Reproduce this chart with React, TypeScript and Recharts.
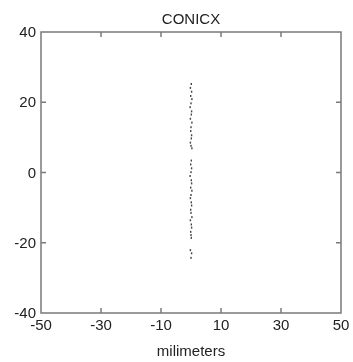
import React from "react";
import { ScatterChart, Scatter, XAxis, YAxis, ReferenceArea } from "recharts";

const title = "CONICX";
const xLabel = "milimeters";
const xTicks = [-50, -30, -10, 10, 30, 50];
const yTicks = [-40, -20, 0, 20, 40];

const pointX = [
  0.1, -0.2, 0.2, -0.1, 0.3, 0.0, -0.3, 0.2, 0.1, -0.2, 0.3, 0.0, -0.1, 0.2, 0.1,
  -0.2, 0.0, 0.3, 0.1, -0.1, 0.2, 0.0, -0.3, 0.1, 0.2, -0.1, 0.3, 0.0, -0.2, 0.1,
  0.2, -0.1, 0.0, 0.3, -0.2, 0.1, 0.2, -0.1, 0.0, 0.1, -0.2, 0.2, 0.0,
];
const pointY = [
  25.2, 24.1, 23.0, 21.8, 20.9, 19.7, 18.6, 17.4, 16.5, 15.3, 14.2, 12.9, 11.8, 10.6,
  9.7, 8.5, 7.6, 6.9, 3.4, 2.3, 1.2, 0.1, -1.0, -2.2, -3.1, -4.3, -5.2, -6.4, -7.3,
  -8.5, -9.4, -10.6, -11.5, -12.7, -13.6, -14.8, -15.7, -16.9, -17.8, -18.6, -22.1,
  -23.0, -24.3,
];

const points = pointX.map((x, i) => ({ x, y: pointY[i] }));

const axisColor = "#7a7a7a";
const textColor = "#222";
const font = "'Liberation Sans', Arial, sans-serif";
const tickLen = 5;

const BottomTick = (props: any) => {
  const { x, y, payload } = props;
  const isEnd = payload.value === -50 || payload.value === 50;
  return (
    <g>
      {!isEnd && (
        <path d={`M${x},${y}L${x},${y - tickLen}`} stroke={axisColor} strokeWidth={1.5} fill="none" />
      )}
      <text x={x} y={y + 17} textAnchor="middle" fill={textColor} fontSize={15} fontFamily={font}>
        {payload.value}
      </text>
    </g>
  );
};

const TopTick = (props: any) => {
  const { x, y, payload } = props;
  const isEnd = payload.value === -50 || payload.value === 50;
  if (isEnd) return <g />;
  return <path d={`M${x},${y}L${x},${y + tickLen}`} stroke={axisColor} strokeWidth={1.5} fill="none" />;
};

const LeftTick = (props: any) => {
  const { x, y, payload } = props;
  const isEnd = payload.value === -40 || payload.value === 40;
  return (
    <g>
      {!isEnd && (
        <path d={`M${x},${y}L${x + tickLen},${y}`} stroke={axisColor} strokeWidth={1.5} fill="none" />
      )}
      <text x={x - 5} y={y + 5} textAnchor="end" fill={textColor} fontSize={15} fontFamily={font}>
        {payload.value}
      </text>
    </g>
  );
};

const RightTick = (props: any) => {
  const { x, y, payload } = props;
  const isEnd = payload.value === -40 || payload.value === 40;
  if (isEnd) return <g />;
  return <path d={`M${x},${y}L${x - tickLen},${y}`} stroke={axisColor} strokeWidth={1.5} fill="none" />;
};

const Speck = (props: any) => {
  const { cx, cy } = props;
  return <rect x={cx - 0.7} y={cy - 1} width={1.4} height={2} fill="#444" />;
};

export default function App() {
  return (
    <div style={{ position: "fixed", left: 8, top: 8, width: 345, height: 354 }}>
      <div
        style={{
          position: "absolute",
          left: 0,
          width: 366,
          top: 3,
          textAlign: "center",
          fontFamily: font,
          fontSize: 15,
          color: textColor,
          lineHeight: "16px",
        }}
      >
        {title}
      </div>
      <ScatterChart
        width={345}
        height={354}
        margin={{ top: 23, right: 11, bottom: 4, left: 0 }}
        style={{ fontFamily: font }}
      >
        <XAxis
          xAxisId="b"
          type="number"
          dataKey="x"
          domain={[-50, 50]}
          ticks={xTicks}
          allowDataOverflow
          height={45}
          tickSize={0}
          tickMargin={0}
          tickLine={false}
          axisLine={false}
          tick={<BottomTick />}
          label={{
            value: xLabel,
            position: "insideBottom",
            offset: 2,
            fill: textColor,
            fontSize: 15,
          }}
        />
        <XAxis
          xAxisId="t"
          orientation="top"
          type="number"
          dataKey="x"
          domain={[-50, 50]}
          ticks={xTicks}
          allowDataOverflow
          height={1}
          tickSize={0}
          tickMargin={0}
          tickLine={false}
          axisLine={false}
          tick={<TopTick />}
        />
        <YAxis
          yAxisId="l"
          type="number"
          dataKey="y"
          domain={[-40, 40]}
          ticks={yTicks}
          allowDataOverflow
          width={33}
          tickSize={0}
          tickMargin={0}
          tickLine={false}
          axisLine={false}
          tick={<LeftTick />}
        />
        <YAxis
          yAxisId="r"
          orientation="right"
          type="number"
          dataKey="y"
          domain={[-40, 40]}
          ticks={yTicks}
          allowDataOverflow
          width={1}
          tickSize={0}
          tickMargin={0}
          tickLine={false}
          axisLine={false}
          tick={<RightTick />}
        />
        <ReferenceArea
          xAxisId="b"
          yAxisId="l"
          x1={-50}
          x2={50}
          y1={-40}
          y2={40}
          fill="none"
          fillOpacity={0}
          stroke={axisColor}
          strokeWidth={1.5}
          ifOverflow="visible"
        />
        <Scatter
          data={points}
          xAxisId="b"
          yAxisId="l"
          shape={<Speck />}
          isAnimationActive={false}
        />
        <Scatter
          data={points}
          xAxisId="t"
          yAxisId="r"
          shape={<g />}
          legendType="none"
          isAnimationActive={false}
        />
      </ScatterChart>
    </div>
  );
}
